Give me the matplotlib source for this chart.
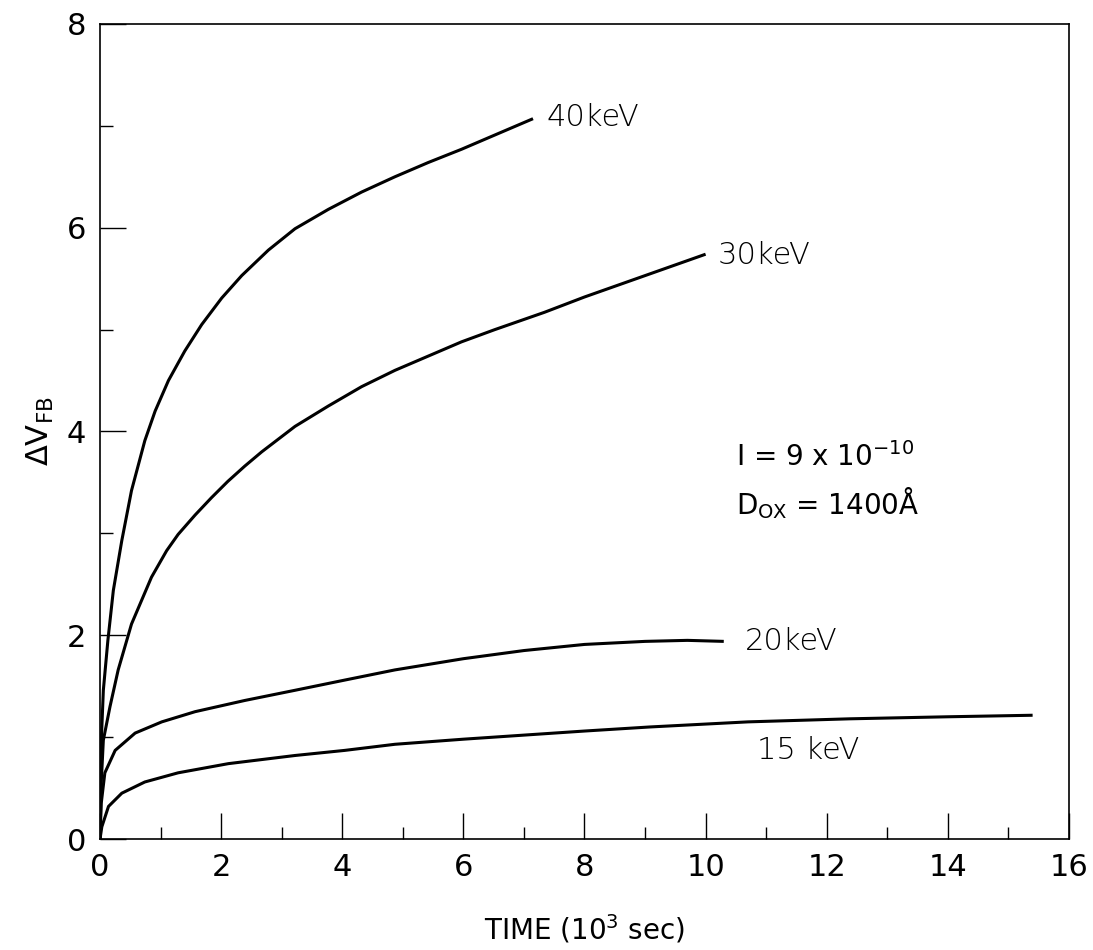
import matplotlib.pyplot as plt
from matplotlib.ticker import MultipleLocator

# Courbes (temps en 10^3 s, tension en V)
t40 = [0, 0.01, 0.055, 0.13, 0.22, 0.36, 0.52, 0.74, 0.91, 1.13, 1.40, 1.68, 2.01, 2.34,
       2.78, 3.22, 3.77, 4.32, 4.87, 5.42, 5.97, 6.52, 7.15]
v40 = [0, 0.8, 1.46, 1.95, 2.44, 2.93, 3.42, 3.91, 4.20, 4.50, 4.79, 5.05, 5.31, 5.53,
       5.78, 5.99, 6.18, 6.35, 6.50, 6.64, 6.77, 6.91, 7.07]

t30 = [0, 0.02, 0.055, 0.165, 0.30, 0.52, 0.85, 1.10, 1.29, 1.57, 1.84, 2.11, 2.39, 2.67, 3.22,
       3.77, 4.32, 4.87, 5.42, 5.97, 6.52, 7.34, 8.0, 9.0, 10.0]
v30 = [0, 0.55, 0.97, 1.30, 1.66, 2.11, 2.57, 2.83, 2.99, 3.18, 3.35, 3.51, 3.66, 3.80, 4.05,
       4.25, 4.44, 4.60, 4.74, 4.88, 5.00, 5.17, 5.32, 5.53, 5.74]

t20 = [0, 0.02, 0.08, 0.25, 0.58, 1.02, 1.57, 2.39, 3.22, 4.04, 4.87, 6.0, 7.0, 8.0, 9.0, 9.7, 10.3]
v20 = [0, 0.35, 0.65, 0.87, 1.04, 1.15, 1.25, 1.36, 1.46, 1.56, 1.66, 1.77, 1.85, 1.91, 1.94, 1.95, 1.94]

t15 = [0, 0.03, 0.14, 0.36, 0.74, 1.29, 2.12, 3.22, 4.04, 4.87, 6.0, 8.0, 9.08, 10.7, 12.38, 14.0, 15.4]
v15 = [0, 0.12, 0.32, 0.45, 0.56, 0.65, 0.74, 0.82, 0.87, 0.93, 0.98, 1.06, 1.10, 1.15, 1.18, 1.20, 1.215]

labels = ["40keV", "30keV", "20keV", "15 keV"]
label_xy = [(7.38, 7.08), (10.2, 5.73), (10.65, 1.94), (10.85, 0.87)]

plt.rcParams['font.family'] = ['DejaVu Sans']

fig = plt.figure(figsize=(10.93, 9.5), dpi=100)
ax = fig.add_axes([0.0915, 0.1168, 0.8865, 0.858])

for t, v in [(t40, v40), (t30, v30), (t20, v20), (t15, v15)]:
    ax.plot(t, v, color="black", lw=2.2, solid_capstyle="butt", solid_joinstyle="round")

for lab, (x, y) in zip(labels, label_xy):
    ax.text(x, y, lab, fontsize=22, va="center", ha="left", fontweight="light")

ax.text(10.5, 3.75, "I = 9 x 10$^{-10}$", fontsize=20, va="center", ha="left")
ax.text(10.5, 3.3, "D$_{\\mathrm{OX}}$ = 1400Å", fontsize=20, va="center", ha="left")

ax.set_xlim(0, 16)
ax.set_ylim(0, 8)
ax.xaxis.set_major_locator(MultipleLocator(2))
ax.xaxis.set_minor_locator(MultipleLocator(1))
ax.yaxis.set_major_locator(MultipleLocator(2))
ax.yaxis.set_minor_locator(MultipleLocator(1))
ax.tick_params(which="major", direction="in", length=19, width=1, labelsize=22, pad=10)
ax.tick_params(which="minor", direction="in", length=9, width=1)
for s in ax.spines.values():
    s.set_linewidth(1.2)

ax.set_xlabel("TIME (10$^3$ sec)", fontsize=20, labelpad=22)
ax.set_ylabel("ΔV$_{\\mathrm{FB}}$", fontsize=22, labelpad=8)

fig.savefig("out.png", dpi=100)
